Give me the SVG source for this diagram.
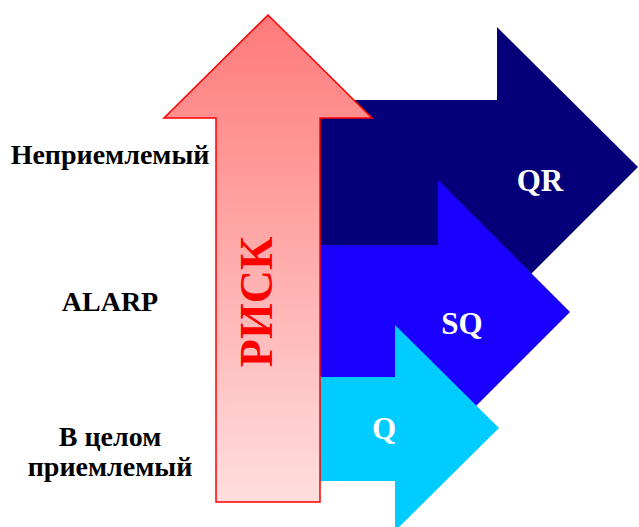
<svg xmlns="http://www.w3.org/2000/svg" width="639" height="527" viewBox="0 0 639 527">
<defs>
<linearGradient id="rg" x1="0" y1="15" x2="0" y2="502" gradientUnits="userSpaceOnUse">
<stop offset="0" stop-color="#ff7a7a"/>
<stop offset="1" stop-color="#ffdede"/>
</linearGradient>
</defs>
<style>
.lbl{font-family:"Liberation Serif","Times New Roman",serif;font-weight:bold;font-size:28px;fill:#000;text-anchor:middle}
.wl{font-family:"Liberation Serif","Times New Roman",serif;font-weight:bold;font-size:31px;fill:#fff;text-anchor:middle}
</style>
<rect width="639" height="527" fill="#fff"/>
<g id="qr">
<polygon points="320,100 497,100 497,27 638,167 497,308 497,245 320,245" fill="#05007a"/>
<text class="wl" x="540" y="191">QR</text>
</g>
<g id="sq">
<polygon points="320,245 438,245 438,180 570,312 438,444 438,377 320,377" fill="#1a00ff"/>
<text class="wl" x="462" y="334">SQ</text>
</g>
<g id="q">
<polygon points="320,377 395,377 395,325 499,428 395,531 395,481 320,481" fill="#00ccff"/>
<text class="wl" x="384" y="439">Q</text>
</g>
<g id="risk">
<polygon points="268,15 372,118 320,118 320,502 216,502 216,118 164,118" fill="url(#rg)" stroke="#ff0000" stroke-width="1.5"/>
<text transform="translate(272,302) rotate(-90)" text-anchor="middle" style="font-family:'Liberation Serif','Times New Roman',serif;font-weight:bold;font-size:46px;fill:#ff0000">РИСК</text>
</g>
<g id="labels">
<text class="lbl" x="110" y="164">Неприемлемый</text>
<text class="lbl" x="110" y="311">ALARP</text>
<text class="lbl" x="110" y="446">В целом</text>
<text class="lbl" x="110" y="476">приемлемый</text>
</g>
<g id="connectors"/>
</svg>
